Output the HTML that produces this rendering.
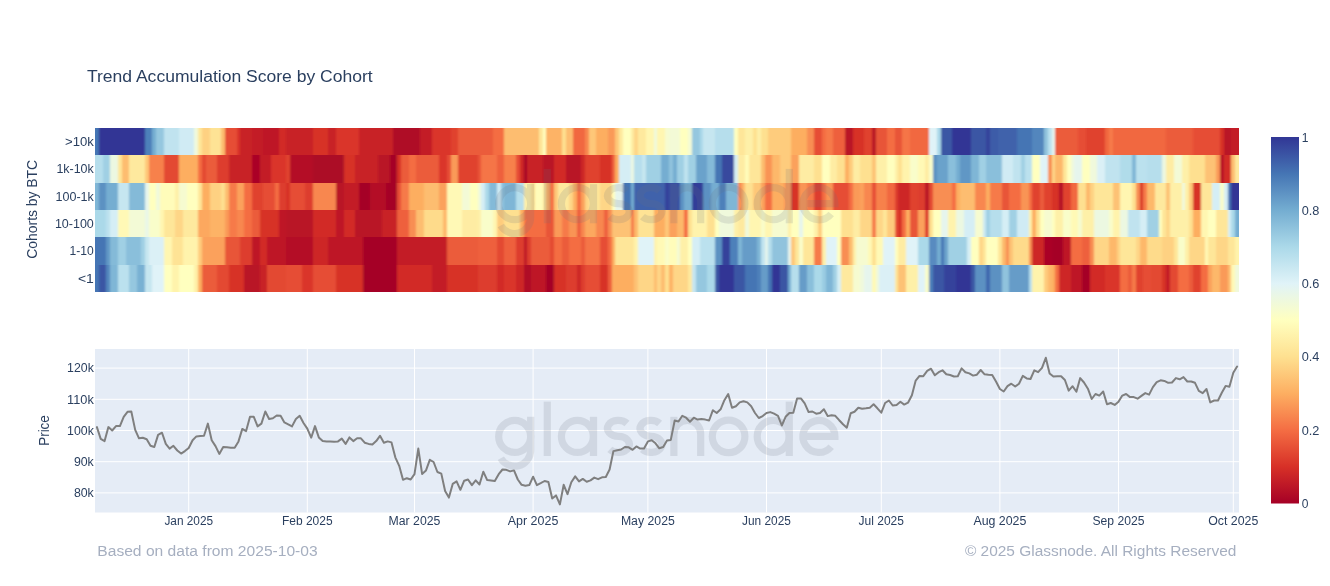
<!DOCTYPE html>
<html><head><meta charset="utf-8"><title>Trend Accumulation Score by Cohort</title>
<style>html,body{margin:0;padding:0;background:#fff}body{width:1330px;height:586px;overflow:hidden}svg{display:block;will-change:transform}text{font-family:"Liberation Sans",sans-serif}</style></head><body>
<svg width="1330" height="586" viewBox="0 0 1330 586">
<rect width="1330" height="586" fill="#fff"/>
<defs><linearGradient id="cb" x1="0" y1="0" x2="0" y2="1"><stop offset="0%" stop-color="rgb(49,54,149)"/><stop offset="10%" stop-color="rgb(69,117,180)"/><stop offset="20%" stop-color="rgb(116,173,209)"/><stop offset="30%" stop-color="rgb(171,217,233)"/><stop offset="40%" stop-color="rgb(224,243,248)"/><stop offset="50%" stop-color="rgb(255,255,191)"/><stop offset="60%" stop-color="rgb(254,224,144)"/><stop offset="70%" stop-color="rgb(253,174,97)"/><stop offset="80%" stop-color="rgb(244,109,67)"/><stop offset="90%" stop-color="rgb(215,48,39)"/><stop offset="100%" stop-color="rgb(165,0,38)"/></linearGradient></defs>
<clipPath id="hc"><rect x="95" y="128" width="1144" height="164"/></clipPath><filter id="hb" x="-2%" y="-2%" width="104%" height="104%"><feGaussianBlur stdDeviation="1.1 0.3"/></filter>
<g clip-path="url(#hc)"><g filter="url(#hb)" shape-rendering="crispEdges">
<rect x="87" y="128" width="12" height="27" fill="#4575b4"/>
<rect x="99" y="128" width="46" height="27" fill="#313695"/>
<rect x="145" y="128" width="7" height="27" fill="#4e80ba"/>
<rect x="152" y="128" width="4" height="27" fill="#74add1"/>
<rect x="156" y="128" width="8" height="27" fill="#95c7df"/>
<rect x="164" y="128" width="15" height="27" fill="#c0e3ef"/>
<rect x="179" y="128" width="15" height="27" fill="#d0ebf4"/>
<rect x="194" y="128" width="4" height="27" fill="#f0f9dc"/>
<rect x="198" y="128" width="4" height="27" fill="#fee699"/>
<rect x="202" y="128" width="8" height="27" fill="#fed182"/>
<rect x="210" y="128" width="11" height="27" fill="#fee395"/>
<rect x="221" y="128" width="4" height="27" fill="#fdbd6f"/>
<rect x="225" y="128" width="12" height="27" fill="#e64e35"/>
<rect x="237" y="128" width="3" height="27" fill="#da362a"/>
<rect x="240" y="128" width="12" height="27" fill="#c82227"/>
<rect x="252" y="128" width="11" height="27" fill="#c31d27"/>
<rect x="263" y="128" width="16" height="27" fill="#be1826"/>
<rect x="279" y="128" width="7" height="27" fill="#d22b27"/>
<rect x="286" y="128" width="27" height="27" fill="#c82227"/>
<rect x="313" y="128" width="15" height="27" fill="#d73027"/>
<rect x="328" y="128" width="8" height="27" fill="#c82227"/>
<rect x="336" y="128" width="23" height="27" fill="#da362a"/>
<rect x="359" y="128" width="34" height="27" fill="#c82227"/>
<rect x="393" y="128" width="27" height="27" fill="#af0a26"/>
<rect x="420" y="128" width="12" height="27" fill="#c31d27"/>
<rect x="432" y="128" width="19" height="27" fill="#da362a"/>
<rect x="451" y="128" width="7" height="27" fill="#e0422f"/>
<rect x="458" y="128" width="35" height="27" fill="#eb5b3b"/>
<rect x="493" y="128" width="11" height="27" fill="#f46d43"/>
<rect x="504" y="128" width="35" height="27" fill="#fdbd6f"/>
<rect x="539" y="128" width="4" height="27" fill="#fee699"/>
<rect x="543" y="128" width="3" height="27" fill="#ffffbf"/>
<rect x="546" y="128" width="16" height="27" fill="#fdb366"/>
<rect x="562" y="128" width="4" height="27" fill="#fee090"/>
<rect x="566" y="128" width="7" height="27" fill="#fdbd6f"/>
<rect x="573" y="128" width="12" height="27" fill="#f16740"/>
<rect x="585" y="128" width="4" height="27" fill="#f8874f"/>
<rect x="589" y="128" width="7" height="27" fill="#fec778"/>
<rect x="596" y="128" width="12" height="27" fill="#fdae61"/>
<rect x="608" y="128" width="7" height="27" fill="#fa9a58"/>
<rect x="615" y="128" width="4" height="27" fill="#fec778"/>
<rect x="619" y="128" width="4" height="27" fill="#fee99e"/>
<rect x="623" y="128" width="8" height="27" fill="#ffffbf"/>
<rect x="631" y="128" width="3" height="27" fill="#feeca3"/>
<rect x="634" y="128" width="4" height="27" fill="#fed687"/>
<rect x="638" y="128" width="8" height="27" fill="#fee99e"/>
<rect x="646" y="128" width="8" height="27" fill="#fff6b1"/>
<rect x="654" y="128" width="3" height="27" fill="#f0f9dc"/>
<rect x="657" y="128" width="8" height="27" fill="#fff6b1"/>
<rect x="665" y="128" width="4" height="27" fill="#f6fbd0"/>
<rect x="669" y="128" width="11" height="27" fill="#f3fad6"/>
<rect x="680" y="128" width="8" height="27" fill="#ffffbf"/>
<rect x="688" y="128" width="4" height="27" fill="#f3fad6"/>
<rect x="692" y="128" width="8" height="27" fill="#95c7df"/>
<rect x="700" y="128" width="3" height="27" fill="#abd9e9"/>
<rect x="703" y="128" width="12" height="27" fill="#c6e6f0"/>
<rect x="715" y="128" width="19" height="27" fill="#b6deec"/>
<rect x="734" y="128" width="4" height="27" fill="#ffffbf"/>
<rect x="738" y="128" width="7" height="27" fill="#fee699"/>
<rect x="745" y="128" width="8" height="27" fill="#fef0a8"/>
<rect x="753" y="128" width="4" height="27" fill="#fee090"/>
<rect x="757" y="128" width="4" height="27" fill="#fef0a8"/>
<rect x="761" y="128" width="7" height="27" fill="#fee090"/>
<rect x="768" y="128" width="23" height="27" fill="#fecc7d"/>
<rect x="791" y="128" width="16" height="27" fill="#fdae61"/>
<rect x="807" y="128" width="7" height="27" fill="#f88e52"/>
<rect x="814" y="128" width="8" height="27" fill="#e64e35"/>
<rect x="822" y="128" width="4" height="27" fill="#f46d43"/>
<rect x="826" y="128" width="7" height="27" fill="#f67a49"/>
<rect x="833" y="128" width="12" height="27" fill="#ee613d"/>
<rect x="845" y="128" width="8" height="27" fill="#b91326"/>
<rect x="853" y="128" width="11" height="27" fill="#d73027"/>
<rect x="864" y="128" width="8" height="27" fill="#e0422f"/>
<rect x="872" y="128" width="4" height="27" fill="#b91326"/>
<rect x="876" y="128" width="11" height="27" fill="#e85538"/>
<rect x="887" y="128" width="8" height="27" fill="#f46d43"/>
<rect x="895" y="128" width="7" height="27" fill="#e85538"/>
<rect x="902" y="128" width="8" height="27" fill="#f57446"/>
<rect x="910" y="128" width="19" height="27" fill="#f16740"/>
<rect x="929" y="128" width="8" height="27" fill="#e0f3f8"/>
<rect x="937" y="128" width="4" height="27" fill="#abd9e9"/>
<rect x="941" y="128" width="11" height="27" fill="#3b56a4"/>
<rect x="952" y="128" width="19" height="27" fill="#313695"/>
<rect x="971" y="128" width="15" height="27" fill="#3b56a4"/>
<rect x="986" y="128" width="4" height="27" fill="#35439b"/>
<rect x="990" y="128" width="8" height="27" fill="#3d5ca8"/>
<rect x="998" y="128" width="19" height="27" fill="#3f62ab"/>
<rect x="1017" y="128" width="15" height="27" fill="#4575b4"/>
<rect x="1032" y="128" width="12" height="27" fill="#5386bd"/>
<rect x="1044" y="128" width="4" height="27" fill="#90c3dd"/>
<rect x="1048" y="128" width="4" height="27" fill="#bbe1ee"/>
<rect x="1052" y="128" width="3" height="27" fill="#e6f5ed"/>
<rect x="1055" y="128" width="23" height="27" fill="#eb5b3b"/>
<rect x="1078" y="128" width="8" height="27" fill="#e64e35"/>
<rect x="1086" y="128" width="19" height="27" fill="#e0422f"/>
<rect x="1105" y="128" width="4" height="27" fill="#f16740"/>
<rect x="1109" y="128" width="4" height="27" fill="#f67a49"/>
<rect x="1113" y="128" width="53" height="27" fill="#f16740"/>
<rect x="1166" y="128" width="27" height="27" fill="#eb5b3b"/>
<rect x="1193" y="128" width="27" height="27" fill="#e64e35"/>
<rect x="1220" y="128" width="4" height="27" fill="#d73027"/>
<rect x="1224" y="128" width="7" height="27" fill="#b91326"/>
<rect x="1231" y="128" width="16" height="27" fill="#c31d27"/>
<rect x="87" y="155" width="16" height="28" fill="#b6deec"/>
<rect x="103" y="155" width="7" height="28" fill="#a0d0e4"/>
<rect x="110" y="155" width="8" height="28" fill="#ecf8e1"/>
<rect x="118" y="155" width="4" height="28" fill="#fee699"/>
<rect x="122" y="155" width="7" height="28" fill="#fdbd6f"/>
<rect x="129" y="155" width="16" height="28" fill="#fee99e"/>
<rect x="145" y="155" width="4" height="28" fill="#fec778"/>
<rect x="149" y="155" width="15" height="28" fill="#f7814c"/>
<rect x="164" y="155" width="15" height="28" fill="#e34832"/>
<rect x="179" y="155" width="19" height="28" fill="#fdae61"/>
<rect x="198" y="155" width="4" height="28" fill="#f46d43"/>
<rect x="202" y="155" width="4" height="28" fill="#e34832"/>
<rect x="206" y="155" width="11" height="28" fill="#eb5b3b"/>
<rect x="217" y="155" width="12" height="28" fill="#dd3c2d"/>
<rect x="229" y="155" width="23" height="28" fill="#c82227"/>
<rect x="252" y="155" width="8" height="28" fill="#aa0526"/>
<rect x="260" y="155" width="11" height="28" fill="#c31d27"/>
<rect x="271" y="155" width="15" height="28" fill="#da362a"/>
<rect x="286" y="155" width="4" height="28" fill="#e0422f"/>
<rect x="290" y="155" width="23" height="28" fill="#b40e26"/>
<rect x="313" y="155" width="31" height="28" fill="#ac0726"/>
<rect x="344" y="155" width="11" height="28" fill="#d73027"/>
<rect x="355" y="155" width="23" height="28" fill="#c82227"/>
<rect x="378" y="155" width="12" height="28" fill="#b91326"/>
<rect x="390" y="155" width="7" height="28" fill="#a50026"/>
<rect x="397" y="155" width="4" height="28" fill="#d73027"/>
<rect x="401" y="155" width="8" height="28" fill="#eb5b3b"/>
<rect x="409" y="155" width="7" height="28" fill="#f46d43"/>
<rect x="416" y="155" width="23" height="28" fill="#eb5b3b"/>
<rect x="439" y="155" width="8" height="28" fill="#da362a"/>
<rect x="447" y="155" width="4" height="28" fill="#e64e35"/>
<rect x="451" y="155" width="7" height="28" fill="#fa9a58"/>
<rect x="458" y="155" width="20" height="28" fill="#e0422f"/>
<rect x="478" y="155" width="3" height="28" fill="#e85538"/>
<rect x="481" y="155" width="16" height="28" fill="#f57446"/>
<rect x="497" y="155" width="7" height="28" fill="#ee613d"/>
<rect x="504" y="155" width="12" height="28" fill="#f7814c"/>
<rect x="516" y="155" width="4" height="28" fill="#e64e35"/>
<rect x="520" y="155" width="4" height="28" fill="#cd2627"/>
<rect x="524" y="155" width="3" height="28" fill="#a50026"/>
<rect x="527" y="155" width="16" height="28" fill="#c82227"/>
<rect x="543" y="155" width="11" height="28" fill="#b91326"/>
<rect x="554" y="155" width="12" height="28" fill="#d22b27"/>
<rect x="566" y="155" width="15" height="28" fill="#b91326"/>
<rect x="581" y="155" width="4" height="28" fill="#cd2627"/>
<rect x="585" y="155" width="15" height="28" fill="#e0422f"/>
<rect x="600" y="155" width="12" height="28" fill="#d73027"/>
<rect x="612" y="155" width="3" height="28" fill="#ee613d"/>
<rect x="615" y="155" width="4" height="28" fill="#fdae61"/>
<rect x="619" y="155" width="12" height="28" fill="#d5eef5"/>
<rect x="631" y="155" width="3" height="28" fill="#ecf8e1"/>
<rect x="634" y="155" width="8" height="28" fill="#b6deec"/>
<rect x="642" y="155" width="4" height="28" fill="#c6e6f0"/>
<rect x="646" y="155" width="15" height="28" fill="#a0d0e4"/>
<rect x="661" y="155" width="8" height="28" fill="#74add1"/>
<rect x="669" y="155" width="4" height="28" fill="#90c3dd"/>
<rect x="673" y="155" width="4" height="28" fill="#74add1"/>
<rect x="677" y="155" width="7" height="28" fill="#a0d0e4"/>
<rect x="684" y="155" width="4" height="28" fill="#c0e3ef"/>
<rect x="688" y="155" width="8" height="28" fill="#a0d0e4"/>
<rect x="696" y="155" width="11" height="28" fill="#6ba2cb"/>
<rect x="707" y="155" width="8" height="28" fill="#84bad8"/>
<rect x="715" y="155" width="7" height="28" fill="#4575b4"/>
<rect x="722" y="155" width="12" height="28" fill="#37499e"/>
<rect x="734" y="155" width="4" height="28" fill="#d5eef5"/>
<rect x="738" y="155" width="7" height="28" fill="#feeca3"/>
<rect x="745" y="155" width="4" height="28" fill="#fffcba"/>
<rect x="749" y="155" width="12" height="28" fill="#fee699"/>
<rect x="761" y="155" width="4" height="28" fill="#fdbd6f"/>
<rect x="765" y="155" width="7" height="28" fill="#f99455"/>
<rect x="772" y="155" width="8" height="28" fill="#fdb86a"/>
<rect x="780" y="155" width="11" height="28" fill="#fecc7d"/>
<rect x="791" y="155" width="8" height="28" fill="#fba15b"/>
<rect x="799" y="155" width="15" height="28" fill="#feeca3"/>
<rect x="814" y="155" width="8" height="28" fill="#fee090"/>
<rect x="822" y="155" width="8" height="28" fill="#ffffbf"/>
<rect x="830" y="155" width="7" height="28" fill="#feeca3"/>
<rect x="837" y="155" width="8" height="28" fill="#fee090"/>
<rect x="845" y="155" width="4" height="28" fill="#fdae61"/>
<rect x="849" y="155" width="4" height="28" fill="#fecc7d"/>
<rect x="853" y="155" width="7" height="28" fill="#feeca3"/>
<rect x="860" y="155" width="12" height="28" fill="#fee090"/>
<rect x="872" y="155" width="4" height="28" fill="#fdc274"/>
<rect x="876" y="155" width="11" height="28" fill="#fef0a8"/>
<rect x="887" y="155" width="8" height="28" fill="#ffffbf"/>
<rect x="895" y="155" width="3" height="28" fill="#fef0a8"/>
<rect x="898" y="155" width="4" height="28" fill="#fee090"/>
<rect x="902" y="155" width="8" height="28" fill="#fff3ac"/>
<rect x="910" y="155" width="8" height="28" fill="#f9fdca"/>
<rect x="918" y="155" width="7" height="28" fill="#fff9b6"/>
<rect x="925" y="155" width="4" height="28" fill="#feeca3"/>
<rect x="929" y="155" width="4" height="28" fill="#f9fdca"/>
<rect x="933" y="155" width="4" height="28" fill="#5c91c2"/>
<rect x="937" y="155" width="11" height="28" fill="#6ba2cb"/>
<rect x="948" y="155" width="8" height="28" fill="#8abfdb"/>
<rect x="956" y="155" width="4" height="28" fill="#74add1"/>
<rect x="960" y="155" width="11" height="28" fill="#6197c5"/>
<rect x="971" y="155" width="8" height="28" fill="#7fb6d6"/>
<rect x="979" y="155" width="7" height="28" fill="#a0d0e4"/>
<rect x="986" y="155" width="16" height="28" fill="#8abfdb"/>
<rect x="1002" y="155" width="11" height="28" fill="#d0ebf4"/>
<rect x="1013" y="155" width="8" height="28" fill="#c0e3ef"/>
<rect x="1021" y="155" width="4" height="28" fill="#a0d0e4"/>
<rect x="1025" y="155" width="7" height="28" fill="#bbe1ee"/>
<rect x="1032" y="155" width="8" height="28" fill="#ffffbf"/>
<rect x="1040" y="155" width="8" height="28" fill="#e0f3f8"/>
<rect x="1048" y="155" width="4" height="28" fill="#f88e52"/>
<rect x="1052" y="155" width="3" height="28" fill="#fed687"/>
<rect x="1055" y="155" width="8" height="28" fill="#fdb86a"/>
<rect x="1063" y="155" width="4" height="28" fill="#fee699"/>
<rect x="1067" y="155" width="4" height="28" fill="#ffffbf"/>
<rect x="1071" y="155" width="3" height="28" fill="#f0f9dc"/>
<rect x="1074" y="155" width="8" height="28" fill="#e6f5ed"/>
<rect x="1082" y="155" width="8" height="28" fill="#ffffbf"/>
<rect x="1090" y="155" width="7" height="28" fill="#f0f9dc"/>
<rect x="1097" y="155" width="8" height="28" fill="#dbf0f6"/>
<rect x="1105" y="155" width="15" height="28" fill="#c0e3ef"/>
<rect x="1120" y="155" width="12" height="28" fill="#b0dcea"/>
<rect x="1132" y="155" width="4" height="28" fill="#7fb6d6"/>
<rect x="1136" y="155" width="11" height="28" fill="#bbe1ee"/>
<rect x="1147" y="155" width="15" height="28" fill="#b6deec"/>
<rect x="1162" y="155" width="4" height="28" fill="#ecf8e1"/>
<rect x="1166" y="155" width="8" height="28" fill="#feeca3"/>
<rect x="1174" y="155" width="8" height="28" fill="#f3fad6"/>
<rect x="1182" y="155" width="7" height="28" fill="#fef0a8"/>
<rect x="1189" y="155" width="16" height="28" fill="#fee090"/>
<rect x="1205" y="155" width="11" height="28" fill="#fdc274"/>
<rect x="1216" y="155" width="4" height="28" fill="#fa9a58"/>
<rect x="1220" y="155" width="4" height="28" fill="#b91326"/>
<rect x="1224" y="155" width="7" height="28" fill="#d22b27"/>
<rect x="1231" y="155" width="4" height="28" fill="#fdbd6f"/>
<rect x="1235" y="155" width="12" height="28" fill="#fee99e"/>
<rect x="87" y="183" width="12" height="27" fill="#7fb6d6"/>
<rect x="99" y="183" width="7" height="27" fill="#5c91c2"/>
<rect x="106" y="183" width="12" height="27" fill="#74add1"/>
<rect x="118" y="183" width="11" height="27" fill="#c6e6f0"/>
<rect x="129" y="183" width="16" height="27" fill="#84bad8"/>
<rect x="145" y="183" width="4" height="27" fill="#e6f5ed"/>
<rect x="149" y="183" width="7" height="27" fill="#ffffbf"/>
<rect x="156" y="183" width="4" height="27" fill="#f0f9dc"/>
<rect x="160" y="183" width="15" height="27" fill="#fffcba"/>
<rect x="175" y="183" width="4" height="27" fill="#fef0a8"/>
<rect x="179" y="183" width="8" height="27" fill="#f6fbd0"/>
<rect x="187" y="183" width="11" height="27" fill="#ffffbf"/>
<rect x="198" y="183" width="4" height="27" fill="#fee699"/>
<rect x="202" y="183" width="8" height="27" fill="#fdae61"/>
<rect x="210" y="183" width="11" height="27" fill="#fed182"/>
<rect x="221" y="183" width="4" height="27" fill="#fee090"/>
<rect x="225" y="183" width="4" height="27" fill="#fdbd6f"/>
<rect x="229" y="183" width="8" height="27" fill="#f67a49"/>
<rect x="237" y="183" width="7" height="27" fill="#fba15b"/>
<rect x="244" y="183" width="8" height="27" fill="#f46d43"/>
<rect x="252" y="183" width="11" height="27" fill="#e0422f"/>
<rect x="263" y="183" width="12" height="27" fill="#e64e35"/>
<rect x="275" y="183" width="4" height="27" fill="#f46d43"/>
<rect x="279" y="183" width="7" height="27" fill="#dd3c2d"/>
<rect x="286" y="183" width="4" height="27" fill="#d73027"/>
<rect x="290" y="183" width="15" height="27" fill="#e64e35"/>
<rect x="305" y="183" width="8" height="27" fill="#dd3c2d"/>
<rect x="313" y="183" width="23" height="27" fill="#f8874f"/>
<rect x="336" y="183" width="8" height="27" fill="#b91326"/>
<rect x="344" y="183" width="15" height="27" fill="#c31d27"/>
<rect x="359" y="183" width="11" height="27" fill="#a50026"/>
<rect x="370" y="183" width="16" height="27" fill="#b40e26"/>
<rect x="386" y="183" width="11" height="27" fill="#a50026"/>
<rect x="397" y="183" width="4" height="27" fill="#e64e35"/>
<rect x="401" y="183" width="8" height="27" fill="#f67a49"/>
<rect x="409" y="183" width="15" height="27" fill="#fdae61"/>
<rect x="424" y="183" width="15" height="27" fill="#fdbd6f"/>
<rect x="439" y="183" width="8" height="27" fill="#fba15b"/>
<rect x="447" y="183" width="15" height="27" fill="#fff9b6"/>
<rect x="462" y="183" width="8" height="27" fill="#f3fad6"/>
<rect x="470" y="183" width="8" height="27" fill="#ffffbf"/>
<rect x="478" y="183" width="3" height="27" fill="#f0f9dc"/>
<rect x="481" y="183" width="4" height="27" fill="#d5eef5"/>
<rect x="485" y="183" width="4" height="27" fill="#abd9e9"/>
<rect x="489" y="183" width="8" height="27" fill="#84bad8"/>
<rect x="497" y="183" width="4" height="27" fill="#d0ebf4"/>
<rect x="501" y="183" width="3" height="27" fill="#90c3dd"/>
<rect x="504" y="183" width="12" height="27" fill="#7fb6d6"/>
<rect x="516" y="183" width="8" height="27" fill="#b6deec"/>
<rect x="524" y="183" width="7" height="27" fill="#fef0a8"/>
<rect x="531" y="183" width="4" height="27" fill="#fee090"/>
<rect x="535" y="183" width="8" height="27" fill="#fffcba"/>
<rect x="543" y="183" width="3" height="27" fill="#fee699"/>
<rect x="546" y="183" width="4" height="27" fill="#fdae61"/>
<rect x="550" y="183" width="4" height="27" fill="#f46d43"/>
<rect x="554" y="183" width="4" height="27" fill="#fec778"/>
<rect x="558" y="183" width="11" height="27" fill="#fee99e"/>
<rect x="569" y="183" width="4" height="27" fill="#fed687"/>
<rect x="573" y="183" width="4" height="27" fill="#fdae61"/>
<rect x="577" y="183" width="4" height="27" fill="#f46d43"/>
<rect x="581" y="183" width="4" height="27" fill="#fba15b"/>
<rect x="585" y="183" width="4" height="27" fill="#fed687"/>
<rect x="589" y="183" width="11" height="27" fill="#fee699"/>
<rect x="600" y="183" width="12" height="27" fill="#fed687"/>
<rect x="612" y="183" width="3" height="27" fill="#ffffbf"/>
<rect x="615" y="183" width="8" height="27" fill="#e6f5ed"/>
<rect x="623" y="183" width="8" height="27" fill="#4575b4"/>
<rect x="631" y="183" width="3" height="27" fill="#74add1"/>
<rect x="634" y="183" width="31" height="27" fill="#3f62ab"/>
<rect x="665" y="183" width="4" height="27" fill="#35439b"/>
<rect x="669" y="183" width="11" height="27" fill="#394fa1"/>
<rect x="680" y="183" width="4" height="27" fill="#5c91c2"/>
<rect x="684" y="183" width="8" height="27" fill="#74add1"/>
<rect x="692" y="183" width="11" height="27" fill="#333c98"/>
<rect x="703" y="183" width="8" height="27" fill="#5c91c2"/>
<rect x="711" y="183" width="8" height="27" fill="#74add1"/>
<rect x="719" y="183" width="7" height="27" fill="#4e80ba"/>
<rect x="726" y="183" width="12" height="27" fill="#7fb6d6"/>
<rect x="738" y="183" width="4" height="27" fill="#f88e52"/>
<rect x="742" y="183" width="3" height="27" fill="#fdb86a"/>
<rect x="745" y="183" width="8" height="27" fill="#fee090"/>
<rect x="753" y="183" width="8" height="27" fill="#fec778"/>
<rect x="761" y="183" width="4" height="27" fill="#fba15b"/>
<rect x="765" y="183" width="7" height="27" fill="#f46d43"/>
<rect x="772" y="183" width="12" height="27" fill="#fdae61"/>
<rect x="784" y="183" width="7" height="27" fill="#fa9a58"/>
<rect x="791" y="183" width="8" height="27" fill="#d73027"/>
<rect x="799" y="183" width="8" height="27" fill="#f99455"/>
<rect x="807" y="183" width="7" height="27" fill="#f67a49"/>
<rect x="814" y="183" width="8" height="27" fill="#dd3c2d"/>
<rect x="822" y="183" width="4" height="27" fill="#f46d43"/>
<rect x="826" y="183" width="7" height="27" fill="#f99455"/>
<rect x="833" y="183" width="16" height="27" fill="#e64e35"/>
<rect x="849" y="183" width="4" height="27" fill="#f46d43"/>
<rect x="853" y="183" width="7" height="27" fill="#fa9a58"/>
<rect x="860" y="183" width="4" height="27" fill="#fba15b"/>
<rect x="864" y="183" width="8" height="27" fill="#f8874f"/>
<rect x="872" y="183" width="4" height="27" fill="#e64e35"/>
<rect x="876" y="183" width="11" height="27" fill="#f7814c"/>
<rect x="887" y="183" width="8" height="27" fill="#f16740"/>
<rect x="895" y="183" width="3" height="27" fill="#dd3c2d"/>
<rect x="898" y="183" width="12" height="27" fill="#cd2627"/>
<rect x="910" y="183" width="8" height="27" fill="#e0422f"/>
<rect x="918" y="183" width="7" height="27" fill="#dd3c2d"/>
<rect x="925" y="183" width="4" height="27" fill="#b91326"/>
<rect x="929" y="183" width="4" height="27" fill="#e34832"/>
<rect x="933" y="183" width="19" height="27" fill="#f88e52"/>
<rect x="952" y="183" width="4" height="27" fill="#f46d43"/>
<rect x="956" y="183" width="4" height="27" fill="#fdae61"/>
<rect x="960" y="183" width="15" height="27" fill="#fdbd6f"/>
<rect x="975" y="183" width="11" height="27" fill="#f8874f"/>
<rect x="986" y="183" width="4" height="27" fill="#fdae61"/>
<rect x="990" y="183" width="12" height="27" fill="#f67a49"/>
<rect x="1002" y="183" width="7" height="27" fill="#e85538"/>
<rect x="1009" y="183" width="12" height="27" fill="#f46d43"/>
<rect x="1021" y="183" width="8" height="27" fill="#f99455"/>
<rect x="1029" y="183" width="3" height="27" fill="#f46d43"/>
<rect x="1032" y="183" width="8" height="27" fill="#e0422f"/>
<rect x="1040" y="183" width="4" height="27" fill="#eb5b3b"/>
<rect x="1044" y="183" width="8" height="27" fill="#e0422f"/>
<rect x="1052" y="183" width="7" height="27" fill="#d73027"/>
<rect x="1059" y="183" width="4" height="27" fill="#b40e26"/>
<rect x="1063" y="183" width="8" height="27" fill="#e0422f"/>
<rect x="1071" y="183" width="7" height="27" fill="#f16740"/>
<rect x="1078" y="183" width="8" height="27" fill="#fee090"/>
<rect x="1086" y="183" width="4" height="27" fill="#fdb86a"/>
<rect x="1090" y="183" width="4" height="27" fill="#fed182"/>
<rect x="1094" y="183" width="19" height="27" fill="#fee699"/>
<rect x="1113" y="183" width="7" height="27" fill="#fdc274"/>
<rect x="1120" y="183" width="12" height="27" fill="#fff6b1"/>
<rect x="1132" y="183" width="4" height="27" fill="#fee090"/>
<rect x="1136" y="183" width="4" height="27" fill="#f88e52"/>
<rect x="1140" y="183" width="3" height="27" fill="#d73027"/>
<rect x="1143" y="183" width="4" height="27" fill="#f67a49"/>
<rect x="1147" y="183" width="8" height="27" fill="#fdb86a"/>
<rect x="1155" y="183" width="11" height="27" fill="#fee99e"/>
<rect x="1166" y="183" width="4" height="27" fill="#fdc274"/>
<rect x="1170" y="183" width="12" height="27" fill="#fef0a8"/>
<rect x="1182" y="183" width="3" height="27" fill="#f0f9dc"/>
<rect x="1185" y="183" width="4" height="27" fill="#fef0a8"/>
<rect x="1189" y="183" width="4" height="27" fill="#fec778"/>
<rect x="1193" y="183" width="8" height="27" fill="#d73027"/>
<rect x="1201" y="183" width="11" height="27" fill="#fee699"/>
<rect x="1212" y="183" width="8" height="27" fill="#d5eef5"/>
<rect x="1220" y="183" width="4" height="27" fill="#f9fdca"/>
<rect x="1224" y="183" width="4" height="27" fill="#d5eef5"/>
<rect x="1228" y="183" width="3" height="27" fill="#4575b4"/>
<rect x="1231" y="183" width="16" height="27" fill="#313695"/>
<rect x="87" y="210" width="19" height="27" fill="#abd9e9"/>
<rect x="106" y="210" width="4" height="27" fill="#bbe1ee"/>
<rect x="110" y="210" width="8" height="27" fill="#d5eef5"/>
<rect x="118" y="210" width="11" height="27" fill="#fff9b6"/>
<rect x="129" y="210" width="16" height="27" fill="#f3fad6"/>
<rect x="145" y="210" width="4" height="27" fill="#e9f7e7"/>
<rect x="149" y="210" width="11" height="27" fill="#f9fdca"/>
<rect x="160" y="210" width="4" height="27" fill="#fff6b1"/>
<rect x="164" y="210" width="11" height="27" fill="#fee699"/>
<rect x="175" y="210" width="8" height="27" fill="#fed687"/>
<rect x="183" y="210" width="15" height="27" fill="#fee99e"/>
<rect x="198" y="210" width="12" height="27" fill="#fca85e"/>
<rect x="210" y="210" width="15" height="27" fill="#fdb366"/>
<rect x="225" y="210" width="4" height="27" fill="#fa9a58"/>
<rect x="229" y="210" width="8" height="27" fill="#f67a49"/>
<rect x="237" y="210" width="7" height="27" fill="#f8874f"/>
<rect x="244" y="210" width="8" height="27" fill="#f46d43"/>
<rect x="252" y="210" width="8" height="27" fill="#eb5b3b"/>
<rect x="260" y="210" width="19" height="27" fill="#d73027"/>
<rect x="279" y="210" width="7" height="27" fill="#be1826"/>
<rect x="286" y="210" width="27" height="27" fill="#b91326"/>
<rect x="313" y="210" width="23" height="27" fill="#d22b27"/>
<rect x="336" y="210" width="8" height="27" fill="#be1826"/>
<rect x="344" y="210" width="11" height="27" fill="#d22b27"/>
<rect x="355" y="210" width="27" height="27" fill="#b91326"/>
<rect x="382" y="210" width="15" height="27" fill="#c82227"/>
<rect x="397" y="210" width="12" height="27" fill="#ee613d"/>
<rect x="409" y="210" width="7" height="27" fill="#f88e52"/>
<rect x="416" y="210" width="8" height="27" fill="#fdbd6f"/>
<rect x="424" y="210" width="19" height="27" fill="#fedb8b"/>
<rect x="443" y="210" width="4" height="27" fill="#fdb86a"/>
<rect x="447" y="210" width="15" height="27" fill="#fff9b6"/>
<rect x="462" y="210" width="16" height="27" fill="#feeca3"/>
<rect x="478" y="210" width="3" height="27" fill="#fef0a8"/>
<rect x="481" y="210" width="12" height="27" fill="#f9fdca"/>
<rect x="493" y="210" width="4" height="27" fill="#fff6b1"/>
<rect x="497" y="210" width="7" height="27" fill="#fecc7d"/>
<rect x="504" y="210" width="16" height="27" fill="#fee090"/>
<rect x="520" y="210" width="4" height="27" fill="#fdae61"/>
<rect x="524" y="210" width="22" height="27" fill="#f46d43"/>
<rect x="546" y="210" width="8" height="27" fill="#e85538"/>
<rect x="554" y="210" width="8" height="27" fill="#fa9a58"/>
<rect x="562" y="210" width="7" height="27" fill="#f67a49"/>
<rect x="569" y="210" width="8" height="27" fill="#f99455"/>
<rect x="577" y="210" width="4" height="27" fill="#ee613d"/>
<rect x="581" y="210" width="4" height="27" fill="#f8874f"/>
<rect x="585" y="210" width="11" height="27" fill="#fca85e"/>
<rect x="596" y="210" width="8" height="27" fill="#f8874f"/>
<rect x="604" y="210" width="4" height="27" fill="#ee613d"/>
<rect x="608" y="210" width="4" height="27" fill="#f88e52"/>
<rect x="612" y="210" width="19" height="27" fill="#fdc274"/>
<rect x="631" y="210" width="3" height="27" fill="#f67a49"/>
<rect x="634" y="210" width="4" height="27" fill="#fdb86a"/>
<rect x="638" y="210" width="16" height="27" fill="#fee395"/>
<rect x="654" y="210" width="11" height="27" fill="#fdae61"/>
<rect x="665" y="210" width="4" height="27" fill="#fec778"/>
<rect x="669" y="210" width="8" height="27" fill="#fba15b"/>
<rect x="677" y="210" width="7" height="27" fill="#fdb86a"/>
<rect x="684" y="210" width="4" height="27" fill="#f46d43"/>
<rect x="688" y="210" width="4" height="27" fill="#fee090"/>
<rect x="692" y="210" width="15" height="27" fill="#fff3ac"/>
<rect x="707" y="210" width="8" height="27" fill="#fee090"/>
<rect x="715" y="210" width="4" height="27" fill="#ffffbf"/>
<rect x="719" y="210" width="15" height="27" fill="#f0f9dc"/>
<rect x="734" y="210" width="4" height="27" fill="#fef0a8"/>
<rect x="738" y="210" width="7" height="27" fill="#fee99e"/>
<rect x="745" y="210" width="4" height="27" fill="#f0f9dc"/>
<rect x="749" y="210" width="12" height="27" fill="#fff6b1"/>
<rect x="761" y="210" width="4" height="27" fill="#f9fdca"/>
<rect x="765" y="210" width="7" height="27" fill="#fff6b1"/>
<rect x="772" y="210" width="16" height="27" fill="#f6fbd0"/>
<rect x="788" y="210" width="3" height="27" fill="#fef0a8"/>
<rect x="791" y="210" width="8" height="27" fill="#ffffbf"/>
<rect x="799" y="210" width="4" height="27" fill="#e6f5ed"/>
<rect x="803" y="210" width="11" height="27" fill="#ffffbf"/>
<rect x="814" y="210" width="4" height="27" fill="#fef0a8"/>
<rect x="818" y="210" width="4" height="27" fill="#fecc7d"/>
<rect x="822" y="210" width="19" height="27" fill="#ffffbf"/>
<rect x="841" y="210" width="12" height="27" fill="#fee090"/>
<rect x="853" y="210" width="7" height="27" fill="#feeca3"/>
<rect x="860" y="210" width="12" height="27" fill="#fed687"/>
<rect x="872" y="210" width="4" height="27" fill="#f67a49"/>
<rect x="876" y="210" width="7" height="27" fill="#fed687"/>
<rect x="883" y="210" width="4" height="27" fill="#fee699"/>
<rect x="887" y="210" width="8" height="27" fill="#fecc7d"/>
<rect x="895" y="210" width="3" height="27" fill="#e64e35"/>
<rect x="898" y="210" width="4" height="27" fill="#d73027"/>
<rect x="902" y="210" width="4" height="27" fill="#f46d43"/>
<rect x="906" y="210" width="4" height="27" fill="#fdae61"/>
<rect x="910" y="210" width="8" height="27" fill="#e85538"/>
<rect x="918" y="210" width="7" height="27" fill="#fba15b"/>
<rect x="925" y="210" width="4" height="27" fill="#dd3c2d"/>
<rect x="929" y="210" width="4" height="27" fill="#fee090"/>
<rect x="933" y="210" width="8" height="27" fill="#ffffbf"/>
<rect x="941" y="210" width="7" height="27" fill="#e6f5ed"/>
<rect x="948" y="210" width="8" height="27" fill="#fff3ac"/>
<rect x="956" y="210" width="8" height="27" fill="#ecf8e1"/>
<rect x="964" y="210" width="11" height="27" fill="#d5eef5"/>
<rect x="975" y="210" width="8" height="27" fill="#f6fbd0"/>
<rect x="983" y="210" width="3" height="27" fill="#cbe9f2"/>
<rect x="986" y="210" width="4" height="27" fill="#a0d0e4"/>
<rect x="990" y="210" width="12" height="27" fill="#b6deec"/>
<rect x="1002" y="210" width="7" height="27" fill="#d5eef5"/>
<rect x="1009" y="210" width="8" height="27" fill="#a0d0e4"/>
<rect x="1017" y="210" width="12" height="27" fill="#d0ebf4"/>
<rect x="1029" y="210" width="3" height="27" fill="#fef0a8"/>
<rect x="1032" y="210" width="4" height="27" fill="#fdae61"/>
<rect x="1036" y="210" width="4" height="27" fill="#fee090"/>
<rect x="1040" y="210" width="4" height="27" fill="#ffffbf"/>
<rect x="1044" y="210" width="8" height="27" fill="#f6fbd0"/>
<rect x="1052" y="210" width="3" height="27" fill="#ffffbf"/>
<rect x="1055" y="210" width="8" height="27" fill="#fef0a8"/>
<rect x="1063" y="210" width="8" height="27" fill="#f9fdca"/>
<rect x="1071" y="210" width="7" height="27" fill="#fff9b6"/>
<rect x="1078" y="210" width="4" height="27" fill="#f6fbd0"/>
<rect x="1082" y="210" width="12" height="27" fill="#fef0a8"/>
<rect x="1094" y="210" width="15" height="27" fill="#ecf8e1"/>
<rect x="1109" y="210" width="4" height="27" fill="#f9fdca"/>
<rect x="1113" y="210" width="7" height="27" fill="#fff3ac"/>
<rect x="1120" y="210" width="8" height="27" fill="#ecf8e1"/>
<rect x="1128" y="210" width="12" height="27" fill="#c0e3ef"/>
<rect x="1140" y="210" width="7" height="27" fill="#d5eef5"/>
<rect x="1147" y="210" width="12" height="27" fill="#a0d0e4"/>
<rect x="1159" y="210" width="3" height="27" fill="#ffffbf"/>
<rect x="1162" y="210" width="4" height="27" fill="#fee699"/>
<rect x="1166" y="210" width="4" height="27" fill="#fed687"/>
<rect x="1170" y="210" width="19" height="27" fill="#fef0a8"/>
<rect x="1189" y="210" width="4" height="27" fill="#fee090"/>
<rect x="1193" y="210" width="8" height="27" fill="#fdae61"/>
<rect x="1201" y="210" width="7" height="27" fill="#fff6b1"/>
<rect x="1208" y="210" width="8" height="27" fill="#ffffbf"/>
<rect x="1216" y="210" width="12" height="27" fill="#fee699"/>
<rect x="1228" y="210" width="3" height="27" fill="#d5eef5"/>
<rect x="1231" y="210" width="4" height="27" fill="#abd9e9"/>
<rect x="1235" y="210" width="12" height="27" fill="#74add1"/>
<rect x="87" y="237" width="19" height="28" fill="#4575b4"/>
<rect x="106" y="237" width="4" height="28" fill="#6197c5"/>
<rect x="110" y="237" width="8" height="28" fill="#84bad8"/>
<rect x="118" y="237" width="8" height="28" fill="#a0d0e4"/>
<rect x="126" y="237" width="15" height="28" fill="#8abfdb"/>
<rect x="141" y="237" width="4" height="28" fill="#a0d0e4"/>
<rect x="145" y="237" width="4" height="28" fill="#c6e6f0"/>
<rect x="149" y="237" width="15" height="28" fill="#dbf0f6"/>
<rect x="164" y="237" width="8" height="28" fill="#fff6b1"/>
<rect x="172" y="237" width="11" height="28" fill="#fee395"/>
<rect x="183" y="237" width="15" height="28" fill="#fff3ac"/>
<rect x="198" y="237" width="4" height="28" fill="#fecc7d"/>
<rect x="202" y="237" width="23" height="28" fill="#fba15b"/>
<rect x="225" y="237" width="15" height="28" fill="#e85538"/>
<rect x="240" y="237" width="12" height="28" fill="#dd3c2d"/>
<rect x="252" y="237" width="8" height="28" fill="#be1826"/>
<rect x="260" y="237" width="7" height="28" fill="#d22b27"/>
<rect x="267" y="237" width="19" height="28" fill="#be1826"/>
<rect x="286" y="237" width="27" height="28" fill="#b40e26"/>
<rect x="313" y="237" width="15" height="28" fill="#cd2627"/>
<rect x="328" y="237" width="35" height="28" fill="#be1826"/>
<rect x="363" y="237" width="34" height="28" fill="#a50026"/>
<rect x="397" y="237" width="50" height="28" fill="#c31d27"/>
<rect x="447" y="237" width="31" height="28" fill="#eb5b3b"/>
<rect x="478" y="237" width="19" height="28" fill="#ee613d"/>
<rect x="497" y="237" width="7" height="28" fill="#e34832"/>
<rect x="504" y="237" width="12" height="28" fill="#ee613d"/>
<rect x="516" y="237" width="8" height="28" fill="#dd3c2d"/>
<rect x="524" y="237" width="3" height="28" fill="#be1826"/>
<rect x="527" y="237" width="4" height="28" fill="#dd3c2d"/>
<rect x="531" y="237" width="19" height="28" fill="#eb5b3b"/>
<rect x="550" y="237" width="4" height="28" fill="#e34832"/>
<rect x="554" y="237" width="8" height="28" fill="#f46d43"/>
<rect x="562" y="237" width="7" height="28" fill="#eb5b3b"/>
<rect x="569" y="237" width="12" height="28" fill="#f46d43"/>
<rect x="581" y="237" width="4" height="28" fill="#eb5b3b"/>
<rect x="585" y="237" width="15" height="28" fill="#f57446"/>
<rect x="600" y="237" width="8" height="28" fill="#e64e35"/>
<rect x="608" y="237" width="4" height="28" fill="#f46d43"/>
<rect x="612" y="237" width="3" height="28" fill="#fdae61"/>
<rect x="615" y="237" width="19" height="28" fill="#fee699"/>
<rect x="634" y="237" width="4" height="28" fill="#fff3ac"/>
<rect x="638" y="237" width="16" height="28" fill="#e0f3f8"/>
<rect x="654" y="237" width="3" height="28" fill="#fff3ac"/>
<rect x="657" y="237" width="8" height="28" fill="#fff9b6"/>
<rect x="665" y="237" width="4" height="28" fill="#f9fdca"/>
<rect x="669" y="237" width="8" height="28" fill="#fffcba"/>
<rect x="677" y="237" width="3" height="28" fill="#f3fad6"/>
<rect x="680" y="237" width="8" height="28" fill="#fef0a8"/>
<rect x="688" y="237" width="4" height="28" fill="#ffffbf"/>
<rect x="692" y="237" width="8" height="28" fill="#d5eef5"/>
<rect x="700" y="237" width="15" height="28" fill="#bbe1ee"/>
<rect x="715" y="237" width="7" height="28" fill="#5c91c2"/>
<rect x="722" y="237" width="8" height="28" fill="#35439b"/>
<rect x="730" y="237" width="8" height="28" fill="#4e80ba"/>
<rect x="738" y="237" width="4" height="28" fill="#7fb6d6"/>
<rect x="742" y="237" width="15" height="28" fill="#669cc8"/>
<rect x="757" y="237" width="4" height="28" fill="#7fb6d6"/>
<rect x="761" y="237" width="4" height="28" fill="#c0e3ef"/>
<rect x="765" y="237" width="3" height="28" fill="#e6f5ed"/>
<rect x="768" y="237" width="4" height="28" fill="#b6deec"/>
<rect x="772" y="237" width="16" height="28" fill="#90c3dd"/>
<rect x="788" y="237" width="3" height="28" fill="#e6f5ed"/>
<rect x="791" y="237" width="4" height="28" fill="#fec778"/>
<rect x="795" y="237" width="4" height="28" fill="#fee699"/>
<rect x="799" y="237" width="4" height="28" fill="#f9fdca"/>
<rect x="803" y="237" width="11" height="28" fill="#fee699"/>
<rect x="814" y="237" width="8" height="28" fill="#f67a49"/>
<rect x="822" y="237" width="4" height="28" fill="#fef0a8"/>
<rect x="826" y="237" width="11" height="28" fill="#e0f3f8"/>
<rect x="837" y="237" width="4" height="28" fill="#ffffbf"/>
<rect x="841" y="237" width="8" height="28" fill="#f88e52"/>
<rect x="849" y="237" width="4" height="28" fill="#fdbd6f"/>
<rect x="853" y="237" width="3" height="28" fill="#fef0a8"/>
<rect x="856" y="237" width="12" height="28" fill="#f6fbd0"/>
<rect x="868" y="237" width="4" height="28" fill="#fff9b6"/>
<rect x="872" y="237" width="4" height="28" fill="#fee090"/>
<rect x="876" y="237" width="7" height="28" fill="#fff9b6"/>
<rect x="883" y="237" width="12" height="28" fill="#e0f3f8"/>
<rect x="895" y="237" width="3" height="28" fill="#ffffbf"/>
<rect x="898" y="237" width="8" height="28" fill="#feeca3"/>
<rect x="906" y="237" width="12" height="28" fill="#e0f3f8"/>
<rect x="918" y="237" width="11" height="28" fill="#abd9e9"/>
<rect x="929" y="237" width="8" height="28" fill="#588bc0"/>
<rect x="937" y="237" width="4" height="28" fill="#74add1"/>
<rect x="941" y="237" width="3" height="28" fill="#4575b4"/>
<rect x="944" y="237" width="4" height="28" fill="#6ba2cb"/>
<rect x="948" y="237" width="19" height="28" fill="#a0d0e4"/>
<rect x="967" y="237" width="4" height="28" fill="#d5eef5"/>
<rect x="971" y="237" width="8" height="28" fill="#ffffbf"/>
<rect x="979" y="237" width="4" height="28" fill="#fed687"/>
<rect x="983" y="237" width="3" height="28" fill="#fee699"/>
<rect x="986" y="237" width="12" height="28" fill="#ffffbf"/>
<rect x="998" y="237" width="4" height="28" fill="#fee699"/>
<rect x="1002" y="237" width="4" height="28" fill="#fdb86a"/>
<rect x="1006" y="237" width="3" height="28" fill="#f88e52"/>
<rect x="1009" y="237" width="4" height="28" fill="#fdc274"/>
<rect x="1013" y="237" width="16" height="28" fill="#fedb8b"/>
<rect x="1029" y="237" width="3" height="28" fill="#f88e52"/>
<rect x="1032" y="237" width="12" height="28" fill="#cd2627"/>
<rect x="1044" y="237" width="8" height="28" fill="#aa0526"/>
<rect x="1052" y="237" width="11" height="28" fill="#a50026"/>
<rect x="1063" y="237" width="8" height="28" fill="#be1826"/>
<rect x="1071" y="237" width="11" height="28" fill="#f46d43"/>
<rect x="1082" y="237" width="8" height="28" fill="#ee613d"/>
<rect x="1090" y="237" width="4" height="28" fill="#f88e52"/>
<rect x="1094" y="237" width="15" height="28" fill="#fed687"/>
<rect x="1109" y="237" width="8" height="28" fill="#fdb86a"/>
<rect x="1117" y="237" width="3" height="28" fill="#fed182"/>
<rect x="1120" y="237" width="16" height="28" fill="#fee699"/>
<rect x="1136" y="237" width="4" height="28" fill="#fed687"/>
<rect x="1140" y="237" width="7" height="28" fill="#fdb86a"/>
<rect x="1147" y="237" width="15" height="28" fill="#fedb8b"/>
<rect x="1162" y="237" width="12" height="28" fill="#fed182"/>
<rect x="1174" y="237" width="4" height="28" fill="#fee699"/>
<rect x="1178" y="237" width="7" height="28" fill="#f9fdca"/>
<rect x="1185" y="237" width="4" height="28" fill="#fef0a8"/>
<rect x="1189" y="237" width="16" height="28" fill="#fed687"/>
<rect x="1205" y="237" width="3" height="28" fill="#fff9b6"/>
<rect x="1208" y="237" width="8" height="28" fill="#fee699"/>
<rect x="1216" y="237" width="12" height="28" fill="#fed687"/>
<rect x="1228" y="237" width="7" height="28" fill="#fee699"/>
<rect x="1235" y="237" width="12" height="28" fill="#fff3ac"/>
<rect x="87" y="265" width="12" height="27" fill="#4575b4"/>
<rect x="99" y="265" width="7" height="27" fill="#3b56a4"/>
<rect x="106" y="265" width="4" height="27" fill="#5386bd"/>
<rect x="110" y="265" width="8" height="27" fill="#7fb6d6"/>
<rect x="118" y="265" width="11" height="27" fill="#bbe1ee"/>
<rect x="129" y="265" width="8" height="27" fill="#95c7df"/>
<rect x="137" y="265" width="8" height="27" fill="#79b1d3"/>
<rect x="145" y="265" width="7" height="27" fill="#c6e6f0"/>
<rect x="152" y="265" width="12" height="27" fill="#e0f3f8"/>
<rect x="164" y="265" width="8" height="27" fill="#ffffbf"/>
<rect x="172" y="265" width="7" height="27" fill="#fff3ac"/>
<rect x="179" y="265" width="15" height="27" fill="#ffffbf"/>
<rect x="194" y="265" width="4" height="27" fill="#fef0a8"/>
<rect x="198" y="265" width="4" height="27" fill="#fdae61"/>
<rect x="202" y="265" width="15" height="27" fill="#eb5b3b"/>
<rect x="217" y="265" width="12" height="27" fill="#e34832"/>
<rect x="229" y="265" width="15" height="27" fill="#d73027"/>
<rect x="244" y="265" width="16" height="27" fill="#b91326"/>
<rect x="260" y="265" width="7" height="27" fill="#c82227"/>
<rect x="267" y="265" width="19" height="27" fill="#e34832"/>
<rect x="286" y="265" width="16" height="27" fill="#e64e35"/>
<rect x="302" y="265" width="11" height="27" fill="#da362a"/>
<rect x="313" y="265" width="23" height="27" fill="#e64e35"/>
<rect x="336" y="265" width="27" height="27" fill="#d73027"/>
<rect x="363" y="265" width="34" height="27" fill="#a50026"/>
<rect x="397" y="265" width="35" height="27" fill="#d22b27"/>
<rect x="432" y="265" width="15" height="27" fill="#c31d27"/>
<rect x="447" y="265" width="31" height="27" fill="#d73027"/>
<rect x="478" y="265" width="19" height="27" fill="#dd3c2d"/>
<rect x="497" y="265" width="7" height="27" fill="#d22b27"/>
<rect x="504" y="265" width="12" height="27" fill="#da362a"/>
<rect x="516" y="265" width="8" height="27" fill="#cd2627"/>
<rect x="524" y="265" width="7" height="27" fill="#af0a26"/>
<rect x="531" y="265" width="15" height="27" fill="#be1826"/>
<rect x="546" y="265" width="8" height="27" fill="#a50026"/>
<rect x="554" y="265" width="12" height="27" fill="#d73027"/>
<rect x="566" y="265" width="11" height="27" fill="#dd3c2d"/>
<rect x="577" y="265" width="4" height="27" fill="#cd2627"/>
<rect x="581" y="265" width="4" height="27" fill="#dd3c2d"/>
<rect x="585" y="265" width="15" height="27" fill="#e64e35"/>
<rect x="600" y="265" width="8" height="27" fill="#d73027"/>
<rect x="608" y="265" width="4" height="27" fill="#ee613d"/>
<rect x="612" y="265" width="22" height="27" fill="#fdae61"/>
<rect x="634" y="265" width="4" height="27" fill="#fdc274"/>
<rect x="638" y="265" width="16" height="27" fill="#fed687"/>
<rect x="654" y="265" width="3" height="27" fill="#fdbd6f"/>
<rect x="657" y="265" width="4" height="27" fill="#fed687"/>
<rect x="661" y="265" width="4" height="27" fill="#fdbd6f"/>
<rect x="665" y="265" width="4" height="27" fill="#fee090"/>
<rect x="669" y="265" width="4" height="27" fill="#fdb366"/>
<rect x="673" y="265" width="15" height="27" fill="#fed687"/>
<rect x="688" y="265" width="4" height="27" fill="#fee99e"/>
<rect x="692" y="265" width="4" height="27" fill="#c6e6f0"/>
<rect x="696" y="265" width="11" height="27" fill="#95c7df"/>
<rect x="707" y="265" width="8" height="27" fill="#abd9e9"/>
<rect x="715" y="265" width="4" height="27" fill="#3b56a4"/>
<rect x="719" y="265" width="15" height="27" fill="#313695"/>
<rect x="734" y="265" width="11" height="27" fill="#3b56a4"/>
<rect x="745" y="265" width="12" height="27" fill="#4575b4"/>
<rect x="757" y="265" width="4" height="27" fill="#4e80ba"/>
<rect x="761" y="265" width="7" height="27" fill="#669cc8"/>
<rect x="768" y="265" width="4" height="27" fill="#4575b4"/>
<rect x="772" y="265" width="8" height="27" fill="#313695"/>
<rect x="780" y="265" width="8" height="27" fill="#3b56a4"/>
<rect x="788" y="265" width="3" height="27" fill="#74add1"/>
<rect x="791" y="265" width="8" height="27" fill="#b6deec"/>
<rect x="799" y="265" width="8" height="27" fill="#669cc8"/>
<rect x="807" y="265" width="7" height="27" fill="#8abfdb"/>
<rect x="814" y="265" width="8" height="27" fill="#abd9e9"/>
<rect x="822" y="265" width="4" height="27" fill="#9acce2"/>
<rect x="826" y="265" width="7" height="27" fill="#7fb6d6"/>
<rect x="833" y="265" width="4" height="27" fill="#a0d0e4"/>
<rect x="837" y="265" width="4" height="27" fill="#d5eef5"/>
<rect x="841" y="265" width="12" height="27" fill="#fee99e"/>
<rect x="853" y="265" width="7" height="27" fill="#f6fbd0"/>
<rect x="860" y="265" width="4" height="27" fill="#f0f9dc"/>
<rect x="864" y="265" width="8" height="27" fill="#e6f5ed"/>
<rect x="872" y="265" width="4" height="27" fill="#fff9b6"/>
<rect x="876" y="265" width="3" height="27" fill="#f0f9dc"/>
<rect x="879" y="265" width="16" height="27" fill="#dbf0f6"/>
<rect x="895" y="265" width="3" height="27" fill="#fee699"/>
<rect x="898" y="265" width="8" height="27" fill="#fdc274"/>
<rect x="906" y="265" width="12" height="27" fill="#fef0a8"/>
<rect x="918" y="265" width="7" height="27" fill="#e0f3f8"/>
<rect x="925" y="265" width="4" height="27" fill="#f9fdca"/>
<rect x="929" y="265" width="4" height="27" fill="#4e80ba"/>
<rect x="933" y="265" width="11" height="27" fill="#3b56a4"/>
<rect x="944" y="265" width="12" height="27" fill="#35439b"/>
<rect x="956" y="265" width="15" height="27" fill="#313695"/>
<rect x="971" y="265" width="4" height="27" fill="#3b56a4"/>
<rect x="975" y="265" width="11" height="27" fill="#5c91c2"/>
<rect x="986" y="265" width="4" height="27" fill="#4168ae"/>
<rect x="990" y="265" width="12" height="27" fill="#5c91c2"/>
<rect x="1002" y="265" width="7" height="27" fill="#90c3dd"/>
<rect x="1009" y="265" width="20" height="27" fill="#669cc8"/>
<rect x="1029" y="265" width="3" height="27" fill="#b6deec"/>
<rect x="1032" y="265" width="12" height="27" fill="#fff3ac"/>
<rect x="1044" y="265" width="4" height="27" fill="#fecc7d"/>
<rect x="1048" y="265" width="4" height="27" fill="#fdb86a"/>
<rect x="1052" y="265" width="3" height="27" fill="#fdae61"/>
<rect x="1055" y="265" width="4" height="27" fill="#f46d43"/>
<rect x="1059" y="265" width="12" height="27" fill="#cd2627"/>
<rect x="1071" y="265" width="11" height="27" fill="#be1826"/>
<rect x="1082" y="265" width="8" height="27" fill="#a50026"/>
<rect x="1090" y="265" width="15" height="27" fill="#d22b27"/>
<rect x="1105" y="265" width="15" height="27" fill="#da362a"/>
<rect x="1120" y="265" width="8" height="27" fill="#f46d43"/>
<rect x="1128" y="265" width="4" height="27" fill="#eb5b3b"/>
<rect x="1132" y="265" width="4" height="27" fill="#f67a49"/>
<rect x="1136" y="265" width="7" height="27" fill="#e0422f"/>
<rect x="1143" y="265" width="8" height="27" fill="#e64e35"/>
<rect x="1151" y="265" width="11" height="27" fill="#e34832"/>
<rect x="1162" y="265" width="4" height="27" fill="#d73027"/>
<rect x="1166" y="265" width="4" height="27" fill="#c31d27"/>
<rect x="1170" y="265" width="8" height="27" fill="#e34832"/>
<rect x="1178" y="265" width="11" height="27" fill="#f46d43"/>
<rect x="1189" y="265" width="4" height="27" fill="#eb5b3b"/>
<rect x="1193" y="265" width="8" height="27" fill="#e0422f"/>
<rect x="1201" y="265" width="7" height="27" fill="#f46d43"/>
<rect x="1208" y="265" width="4" height="27" fill="#fba15b"/>
<rect x="1212" y="265" width="8" height="27" fill="#fdb86a"/>
<rect x="1220" y="265" width="8" height="27" fill="#fa9a58"/>
<rect x="1228" y="265" width="3" height="27" fill="#fdbd6f"/>
<rect x="1231" y="265" width="4" height="27" fill="#fff9b6"/>
<rect x="1235" y="265" width="12" height="27" fill="#f0f9dc"/>
</g></g>
<rect x="95" y="349" width="1144" height="163.5" fill="#e5ecf6"/>
<line x1="188.7" y1="349" x2="188.7" y2="512.5" stroke="#fff" stroke-width="1"/>
<line x1="307.3" y1="349" x2="307.3" y2="512.5" stroke="#fff" stroke-width="1"/>
<line x1="414.5" y1="349" x2="414.5" y2="512.5" stroke="#fff" stroke-width="1"/>
<line x1="533.1" y1="349" x2="533.1" y2="512.5" stroke="#fff" stroke-width="1"/>
<line x1="647.9" y1="349" x2="647.9" y2="512.5" stroke="#fff" stroke-width="1"/>
<line x1="766.5" y1="349" x2="766.5" y2="512.5" stroke="#fff" stroke-width="1"/>
<line x1="881.3" y1="349" x2="881.3" y2="512.5" stroke="#fff" stroke-width="1"/>
<line x1="999.9" y1="349" x2="999.9" y2="512.5" stroke="#fff" stroke-width="1"/>
<line x1="1118.5" y1="349" x2="1118.5" y2="512.5" stroke="#fff" stroke-width="1"/>
<line x1="1233.3" y1="349" x2="1233.3" y2="512.5" stroke="#fff" stroke-width="1"/>
<line x1="95" y1="492.9" x2="1239" y2="492.9" stroke="#fff" stroke-width="1"/>
<line x1="95" y1="461.7" x2="1239" y2="461.7" stroke="#fff" stroke-width="1"/>
<line x1="95" y1="430.5" x2="1239" y2="430.5" stroke="#fff" stroke-width="1"/>
<line x1="95" y1="399.3" x2="1239" y2="399.3" stroke="#fff" stroke-width="1"/>
<line x1="95" y1="368.1" x2="1239" y2="368.1" stroke="#fff" stroke-width="1"/>
<defs><g id="wm" fill="none" stroke="#6b7280" stroke-width="7.25"><circle cx="514.65" cy="436.4" r="16"/><path d="M530.65,416.8 L530.65,450.2 A16,16 0 0 1 500.8,458.2"/><path d="M547.3,401.6 L547.3,456"/><circle cx="577.4" cy="436.4" r="16"/><path d="M593.5,416.8 L593.5,456"/><path d="M627.0,423.5 A10.9,8.0 0 1 0 618.4,436.4 A10.9,8.0 0 1 1 609.8,449.3"/><path d="M659.6,423.5 A10.9,8.0 0 1 0 651.0,436.4 A10.9,8.0 0 1 1 642.4,449.3"/><path d="M673.9,416.8 L673.9,456"/><path d="M673.9,433.8 A13.4,13.4 0 0 1 700.7,433.8 L700.7,456"/><circle cx="728.6" cy="436.4" r="16.3"/><circle cx="773.2" cy="436.4" r="16"/><path d="M789.3,401.6 L789.3,456"/><path d="M802.9,436.4 L834.9,436.4 A16,16 0 1 0 831.2,446.7"/></g></defs>
<use href="#wm" transform="translate(0,-232.7)" opacity="0.16"/>
<use href="#wm" opacity="0.16"/>
<polyline points="96.9,427.1 100.7,438.9 104.6,441.1 108.4,427.1 112.2,430.5 116.0,426.1 119.9,426.1 123.7,416.8 127.5,411.8 131.3,411.5 135.2,429.9 139.0,438.3 142.8,437.7 146.7,439.2 150.5,445.8 154.3,447.0 158.1,434.9 162.0,432.7 165.8,443.9 169.6,448.6 173.4,445.8 177.3,450.5 181.1,453.6 184.9,451.1 188.7,448.0 192.6,440.2 196.4,436.4 200.2,436.1 204.0,435.8 207.9,423.6 211.7,440.2 215.5,446.1 219.3,453.9 223.2,447.0 227.0,447.3 230.8,447.7 234.7,447.7 238.5,441.4 242.3,428.9 246.1,431.1 250.0,416.8 253.8,416.8 257.6,426.4 261.4,423.6 265.3,411.5 269.1,419.0 272.9,418.3 276.7,415.5 280.6,415.8 284.4,422.4 288.2,424.3 292.0,426.4 295.9,419.0 299.7,415.8 303.5,423.0 307.3,428.6 311.2,437.7 315.0,426.1 318.8,437.4 322.7,441.1 326.5,441.4 330.3,441.4 334.1,441.7 338.0,441.4 341.8,438.6 345.6,443.9 349.4,437.4 353.3,441.1 357.1,438.3 360.9,438.3 364.7,442.7 368.6,443.9 372.4,444.5 376.2,441.1 380.0,435.8 383.9,442.7 387.7,441.4 391.5,442.4 395.3,457.3 399.2,465.8 403.0,479.8 406.8,478.2 410.7,479.5 414.5,474.2 418.3,448.6 422.1,473.9 426.0,470.4 429.8,459.8 433.6,462.0 437.4,472.0 441.3,473.6 445.1,491.0 448.9,497.6 452.7,483.9 456.6,481.4 460.4,489.8 464.2,480.7 468.0,479.5 471.9,485.1 475.7,480.4 479.5,484.5 483.3,471.7 487.2,480.1 491.0,480.4 494.8,481.0 498.7,474.2 502.5,469.5 506.3,469.8 510.1,471.4 514.0,470.4 517.8,479.5 521.6,484.8 525.4,485.7 529.3,485.1 533.1,476.7 536.9,485.1 540.7,483.2 544.6,481.0 548.4,482.0 552.2,498.5 556.0,495.4 559.9,504.4 563.7,484.8 567.5,494.1 571.3,482.3 575.2,476.4 579.0,481.4 582.8,478.9 586.7,481.7 590.5,480.4 594.3,477.6 598.1,479.2 602.0,477.3 605.8,477.0 609.6,469.5 613.4,451.1 617.3,450.2 621.1,449.5 624.9,447.0 628.7,447.3 632.6,449.8 636.4,446.4 640.2,448.6 644.0,448.6 647.9,441.4 651.7,440.2 655.5,443.3 659.3,448.3 663.2,447.0 667.0,440.5 670.8,439.9 674.7,420.5 678.5,421.5 682.3,415.8 686.1,417.7 690.0,421.8 693.8,417.7 697.6,419.6 701.4,419.0 705.3,419.6 709.1,420.5 712.9,410.2 716.7,413.0 720.6,409.3 724.4,400.2 728.2,394.0 732.0,407.7 735.9,406.2 739.7,402.4 743.5,401.2 747.3,402.4 751.2,406.2 755.0,413.0 758.8,418.0 762.7,416.1 766.5,413.0 770.3,412.1 774.1,413.7 778.0,415.8 781.8,425.5 785.6,416.8 789.4,413.0 793.3,412.7 797.1,398.4 800.9,398.4 804.7,403.4 808.6,412.1 812.4,411.5 816.2,413.7 820.0,413.0 823.9,409.3 827.7,416.1 831.5,415.2 835.3,415.8 839.2,420.2 843.0,424.3 846.8,427.7 850.7,413.3 854.5,411.8 858.3,407.7 862.1,408.7 866.0,408.3 869.8,407.7 873.6,404.3 877.4,408.3 881.3,412.7 885.1,403.0 888.9,400.5 892.7,405.5 896.6,404.9 900.4,401.8 904.2,404.6 908.0,402.7 911.9,395.2 915.7,380.6 919.5,375.9 923.3,376.2 927.2,370.9 931.0,368.7 934.8,375.3 938.7,372.2 942.5,370.3 946.3,374.3 950.1,375.0 954.0,376.5 957.8,376.2 961.6,368.4 965.4,372.2 969.3,373.4 973.1,375.6 976.9,374.7 980.7,370.0 984.6,374.3 988.4,374.7 992.2,375.0 996.0,381.5 999.9,389.0 1003.7,391.5 1007.5,386.2 1011.3,383.7 1015.2,386.5 1019.0,383.7 1022.8,375.9 1026.7,378.4 1030.5,379.0 1034.3,370.3 1038.1,372.2 1042.0,367.8 1045.8,357.8 1049.6,373.4 1053.4,376.5 1057.3,376.2 1061.1,376.2 1064.9,380.0 1068.7,390.6 1072.6,386.2 1076.4,391.8 1080.2,378.1 1084.0,382.5 1087.9,388.7 1091.7,399.0 1095.5,394.0 1099.3,395.6 1103.2,391.5 1107.0,404.3 1110.8,403.0 1114.7,404.9 1118.5,401.8 1122.3,395.6 1126.1,394.0 1130.0,397.1 1133.8,397.1 1137.6,398.7 1141.4,395.9 1145.3,393.1 1149.1,394.6 1152.9,387.1 1156.7,382.1 1160.6,380.3 1164.4,380.9 1168.2,382.8 1172.0,382.5 1175.9,378.1 1179.7,379.3 1183.5,377.1 1187.3,381.5 1191.2,381.5 1195.0,382.8 1198.8,390.9 1202.7,393.1 1206.5,389.0 1210.3,402.4 1214.1,400.5 1218.0,400.5 1221.8,392.7 1225.6,385.9 1229.4,386.8 1233.3,372.8 1237.1,366.5" fill="none" stroke="#7f7f7f" stroke-width="2" stroke-linejoin="round" stroke-linecap="round"/>
<rect x="1271" y="137" width="28" height="366.5" fill="url(#cb)"/>
<text x="1301.7" y="507.7" font-size="12px" fill="#2a3f5f" textLength="6.7" lengthAdjust="spacingAndGlyphs">0</text>
<text x="1301.7" y="434.5" font-size="12px" fill="#2a3f5f" textLength="17.7" lengthAdjust="spacingAndGlyphs">0.2</text>
<text x="1301.7" y="361.3" font-size="12px" fill="#2a3f5f" textLength="17.7" lengthAdjust="spacingAndGlyphs">0.4</text>
<text x="1301.7" y="288.0" font-size="12px" fill="#2a3f5f" textLength="17.7" lengthAdjust="spacingAndGlyphs">0.6</text>
<text x="1301.7" y="214.8" font-size="12px" fill="#2a3f5f" textLength="17.7" lengthAdjust="spacingAndGlyphs">0.8</text>
<text x="1301.7" y="141.6" font-size="12px" fill="#2a3f5f" textLength="6.7" lengthAdjust="spacingAndGlyphs">1</text>
<text x="86.9" y="81.8" font-size="16px" fill="#2a3f5f" textLength="285.8" lengthAdjust="spacingAndGlyphs">Trend Accumulation Score by Cohort</text>
<text x="65" y="146.1" font-size="12px" fill="#2a3f5f" textLength="28.8" lengthAdjust="spacingAndGlyphs">&gt;10k</text>
<text x="56.4" y="173.4" font-size="12px" fill="#2a3f5f" textLength="37.4" lengthAdjust="spacingAndGlyphs">1k-10k</text>
<text x="55.5" y="200.7" font-size="12px" fill="#2a3f5f" textLength="38.3" lengthAdjust="spacingAndGlyphs">100-1k</text>
<text x="54.9" y="228.1" font-size="12px" fill="#2a3f5f" textLength="38.9" lengthAdjust="spacingAndGlyphs">10-100</text>
<text x="69.6" y="255.4" font-size="12px" fill="#2a3f5f" textLength="24.2" lengthAdjust="spacingAndGlyphs">1-10</text>
<text x="77.9" y="282.7" font-size="12px" fill="#2a3f5f" textLength="15.9" lengthAdjust="spacingAndGlyphs">&lt;1</text>
<text x="73.9" y="497.1" font-size="12px" fill="#2a3f5f" textLength="19.9" lengthAdjust="spacingAndGlyphs">80k</text>
<text x="73.9" y="465.9" font-size="12px" fill="#2a3f5f" textLength="19.9" lengthAdjust="spacingAndGlyphs">90k</text>
<text x="67.1" y="434.7" font-size="12px" fill="#2a3f5f" textLength="26.7" lengthAdjust="spacingAndGlyphs">100k</text>
<text x="67.1" y="403.5" font-size="12px" fill="#2a3f5f" textLength="26.7" lengthAdjust="spacingAndGlyphs">110k</text>
<text x="67.1" y="372.3" font-size="12px" fill="#2a3f5f" textLength="26.7" lengthAdjust="spacingAndGlyphs">120k</text>
<text x="164.4" y="525.3" font-size="12px" fill="#2a3f5f" textLength="48.7" lengthAdjust="spacingAndGlyphs">Jan 2025</text>
<text x="282.0" y="525.3" font-size="12px" fill="#2a3f5f" textLength="50.6" lengthAdjust="spacingAndGlyphs">Feb 2025</text>
<text x="388.6" y="525.3" font-size="12px" fill="#2a3f5f" textLength="51.8" lengthAdjust="spacingAndGlyphs">Mar 2025</text>
<text x="507.8" y="525.3" font-size="12px" fill="#2a3f5f" textLength="50.5" lengthAdjust="spacingAndGlyphs">Apr 2025</text>
<text x="620.9" y="525.3" font-size="12px" fill="#2a3f5f" textLength="53.9" lengthAdjust="spacingAndGlyphs">May 2025</text>
<text x="742.1" y="525.3" font-size="12px" fill="#2a3f5f" textLength="48.8" lengthAdjust="spacingAndGlyphs">Jun 2025</text>
<text x="858.6" y="525.3" font-size="12px" fill="#2a3f5f" textLength="45.3" lengthAdjust="spacingAndGlyphs">Jul 2025</text>
<text x="973.4" y="525.3" font-size="12px" fill="#2a3f5f" textLength="53" lengthAdjust="spacingAndGlyphs">Aug 2025</text>
<text x="1092.5" y="525.3" font-size="12px" fill="#2a3f5f" textLength="52" lengthAdjust="spacingAndGlyphs">Sep 2025</text>
<text x="1208.2" y="525.3" font-size="12px" fill="#2a3f5f" textLength="50.1" lengthAdjust="spacingAndGlyphs">Oct 2025</text>
<text transform="translate(37.4,258.7) rotate(-90)" font-size="14px" fill="#2a3f5f" textLength="98.8" lengthAdjust="spacingAndGlyphs">Cohorts by BTC</text>
<text transform="translate(48.8,445.8) rotate(-90)" font-size="14px" fill="#2a3f5f" textLength="30.6" lengthAdjust="spacingAndGlyphs">Price</text>
<text x="97.3" y="555.6" font-size="14px" fill="#a6afc0" textLength="220.4" lengthAdjust="spacingAndGlyphs">Based on data from 2025-10-03</text>
<text x="964.9" y="555.6" font-size="14px" fill="#a6afc0" textLength="271.5" lengthAdjust="spacingAndGlyphs">© 2025 Glassnode. All Rights Reserved</text>
</svg></body></html>
